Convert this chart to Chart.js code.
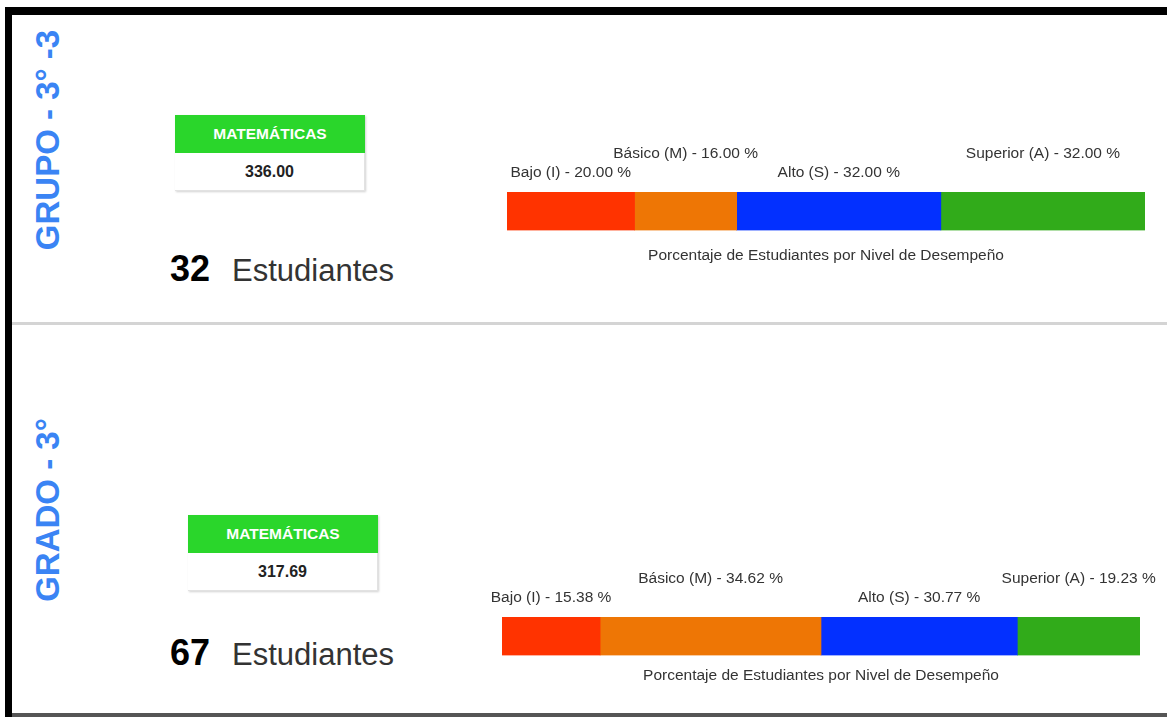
<!DOCTYPE html>
<html lang="es">
<head>
<meta charset="utf-8">
<title>Porcentaje de Estudiantes por Nivel de Desempeño</title>
<script src="https://cdn.jsdelivr.net/npm/chart.js@4.4.1/dist/chart.umd.min.js"></script>
<style>
  html, body { margin: 0; padding: 0; background: #fff; }
  body { width: 1167px; height: 717px; position: relative; overflow: hidden;
         font-family: "Liberation Sans", Arial, Helvetica, sans-serif; }
  .frame-top { position: absolute; left: 5px; top: 7px; width: 1162px; height: 8px; background: #000; }
  .frame-left { position: absolute; left: 5px; top: 7px; width: 7px; height: 710px; background: #000; }
  .frame-bottom { position: absolute; left: 12px; top: 713px; width: 1155px; height: 4px; background: #555; }
  .divider { position: absolute; left: 12px; top: 322px; width: 1155px; height: 3px; background: #d4d4d4; }
  .side { position: absolute; left: 48px; color: #3a84f4; font-weight: bold; font-size: 33px;
          white-space: nowrap; transform: translate(-50%, -50%) rotate(-90deg); }
  .card { position: absolute; width: 190px; box-shadow: 1px 1px 2px rgba(0,0,0,0.18); background: #fff; }
  .card .head { height: 38px; line-height: 38px; background: #2ad62b; color: #fff; text-align: center;
                font-weight: bold; font-size: 15.5px; }
  .card .val { height: 37px; line-height: 37px; text-align: center; font-weight: bold; font-size: 16px;
               color: #222; border-right: 1px solid #e2e2e2; border-bottom: 1px solid #e2e2e2; }
  .count { position: absolute; left: 170px; white-space: nowrap; color: #333; font-size: 31px; }
  .count b { color: #000; font-size: 36px; margin-right: 22px; }
  .chart { position: absolute; }
</style>
</head>
<body>
<div class="frame-top"></div>
<div class="frame-left"></div>
<div class="frame-bottom"></div>
<div class="divider"></div>

<div class="side" style="top:140px">GRUPO - 3° -3</div>
<div class="card" style="left:175px; top:115px">
  <div class="head">MATEMÁTICAS</div>
  <div class="val" id="score1"></div>
</div>
<div class="count" style="top:248px"><b id="n1"></b>Estudiantes</div>
<div class="chart" style="left:480px; top:120px; width:687px; height:160px"><canvas id="chart1"></canvas></div>

<div class="side" style="top:510px">GRADO - 3°</div>
<div class="card" style="left:188px; top:515px">
  <div class="head">MATEMÁTICAS</div>
  <div class="val" id="score2"></div>
</div>
<div class="count" style="top:632px"><b id="n2"></b>Estudiantes</div>
<div class="chart" style="left:475px; top:545px; width:692px; height:160px"><canvas id="chart2"></canvas></div>

<script>
// Levels
const levels = ['Bajo (I)', 'Básico (M)', 'Alto (S)', 'Superior (A)'];
const levelColors = ['#ff3300', '#ee7605', '#0330ff', '#31ab1a'];

// Group 3° -3
const grupoPct = [20.00, 16.00, 32.00, 32.00];
const grupoScore = 336.00;
const grupoStudents = 32;

// Grade 3°
const gradoPct = [15.38, 34.62, 30.77, 19.23];
const gradoScore = 317.69;
const gradoStudents = 67;

const chartTitle = 'Porcentaje de Estudiantes por Nivel de Desempeño';

document.getElementById('score1').textContent = grupoScore.toFixed(2);
document.getElementById('score2').textContent = gradoScore.toFixed(2);
document.getElementById('n1').textContent = grupoStudents;
document.getElementById('n2').textContent = gradoStudents;

// labels over each segment, alternating low / high
const segmentLabels = {
  id: 'segmentLabels',
  afterDatasetsDraw(chart) {
    const ctx = chart.ctx;
    ctx.save();
    ctx.font = '15.5px "Liberation Sans", Arial, sans-serif';
    ctx.fillStyle = '#333';
    ctx.textAlign = 'center';
    ctx.textBaseline = 'middle';
    chart.data.datasets.forEach((ds, i) => {
      const bar = chart.getDatasetMeta(i).data[0];
      const top = bar.y - bar.height / 2;
      const y = i % 2 === 0 ? top - 19 : top - 38;
      ctx.fillText(ds.label + ' - ' + ds.data[0].toFixed(2) + ' %', (bar.x + bar.base) / 2, y);
    });
    ctx.restore();
  }
};

function makeChart(id, values, pad, titlePad) {
  const ctx = document.getElementById(id);
  if (!ctx) {
    console.error('Canvas not found: ' + id);
    return;
  }
  new Chart(ctx.getContext('2d'), {
    type: 'bar',
    data: {
      labels: [''],
      datasets: levels.map((name, i) => ({
        label: name,
        data: [values[i]],
        backgroundColor: levelColors[i],
        borderWidth: 0,
        barPercentage: 1,
        categoryPercentage: 1
      }))
    },
    options: {
      indexAxis: 'y',
      responsive: true,
      maintainAspectRatio: false,
      animation: false,
      layout: { padding: pad },
      scales: {
        x: { stacked: true, display: false, min: 0, max: 100 },
        y: { stacked: true, display: false }
      },
      plugins: {
        legend: { display: false },
        tooltip: { enabled: false },
        title: {
          display: true,
          text: chartTitle,
          position: 'bottom',
          color: '#333',
          font: { family: '"Liberation Sans", Arial, sans-serif', size: 15.5, weight: 'normal' },
          padding: titlePad
        }
      }
    },
    plugins: [segmentLabels]
  });
}

document.addEventListener('DOMContentLoaded', () => {
  makeChart('chart1', grupoPct, { top: 72, left: 27, right: 22, bottom: 0 }, { top: 16, bottom: 15 });
  makeChart('chart2', gradoPct, { top: 72, left: 27, right: 27, bottom: 0 }, { top: 11, bottom: 20 });
});
</script>
</body>
</html>
